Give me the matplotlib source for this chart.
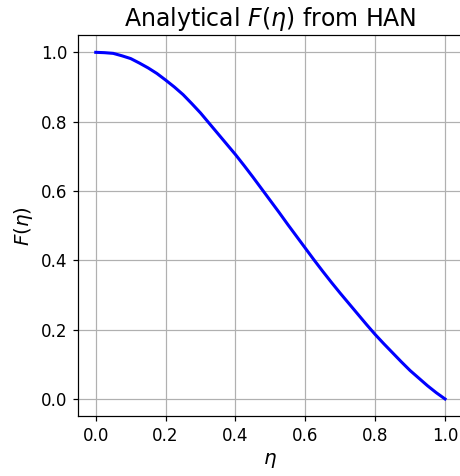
import numpy as np
import matplotlib
matplotlib.use("Agg")
import matplotlib.pyplot as plt

# F(eta) values along the similarity coordinate
eta = [0.0, 0.025, 0.05, 0.075, 0.1, 0.125, 0.15, 0.175, 0.2, 0.225, 0.25, 0.275,
       0.3, 0.325, 0.35, 0.375, 0.4, 0.425, 0.45, 0.475, 0.5, 0.525, 0.55, 0.575,
       0.6, 0.625, 0.65, 0.675, 0.7, 0.725, 0.75, 0.775, 0.8, 0.825, 0.85, 0.875,
       0.9, 0.925, 0.95, 0.975, 1.0]
F = [1.0, 0.999, 0.997, 0.990, 0.982, 0.969, 0.955, 0.939, 0.920, 0.900, 0.878,
     0.852, 0.825, 0.795, 0.765, 0.735, 0.705, 0.673, 0.640, 0.606, 0.572, 0.538,
     0.503, 0.469, 0.435, 0.401, 0.368, 0.336, 0.305, 0.275, 0.245, 0.215, 0.186,
     0.159, 0.133, 0.107, 0.082, 0.060, 0.038, 0.018, 0.0]

DPI = 110
fig = plt.figure(figsize=(460 / DPI, 476 / DPI), dpi=DPI)
ax = fig.add_axes([78.3 / 460, 59.7 / 476, 384.2 / 460, 381.3 / 476])
ax.plot(eta, F, color="blue", linewidth=2)
ax.set_title(r"Analytical $F(\eta)$ from HAN", fontsize=15.5)
ax.set_xlabel(r"$\eta$", fontsize=13)
ax.set_ylabel(r"$F(\eta)$", fontsize=13)
ax.tick_params(labelsize=11)
ax.spines["right"].set_visible(False)
ax.grid(True)
fig.savefig("out.png", dpi=DPI)
